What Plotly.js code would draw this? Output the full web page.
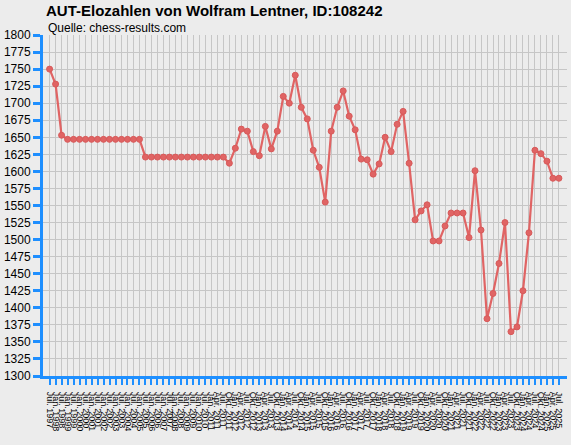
<!DOCTYPE html>
<html>
<head>
<meta charset="utf-8">
<script src="https://cdn.plot.ly/plotly-3.0.1.min.js"></script>
<style>
  html, body { margin: 0; padding: 0; background: #ececec; }
  #chart { width: 571px; height: 445px; }
</style>
</head>
<body>
<div id="chart"></div>
<script>
// Rating list dates (x axis)
const periods = [
  'Jul. 1997',
  'Jan. 1998', 'Jul. 1998', 'Jan. 1999', 'Jul. 1999', 'Jan. 2000', 'Jul. 2000',
  'Jan. 2001', 'Jul. 2001', 'Jan. 2002', 'Jul. 2002', 'Jan. 2003', 'Jul. 2003',
  'Jan. 2004', 'Jul. 2004', 'Jan. 2005', 'Jul. 2005', 'Jan. 2006', 'Jul. 2006',
  'Jan. 2007', 'Jul. 2007', 'Jan. 2008', 'Jul. 2008', 'Jan. 2009', 'Jul. 2009',
  'Jan. 2010', 'Jul. 2010',
  'Jan. 2011', 'Apr. 2011', 'Jul. 2011', 'Okt. 2011',
  'Jan. 2012', 'Apr. 2012', 'Jul. 2012', 'Okt. 2012',
  'Jan. 2013', 'Apr. 2013', 'Jul. 2013', 'Okt. 2013',
  'Jan. 2014', 'Apr. 2014', 'Jul. 2014', 'Okt. 2014',
  'Jan. 2015', 'Apr. 2015', 'Jul. 2015', 'Okt. 2015',
  'Jan. 2016', 'Apr. 2016', 'Jul. 2016', 'Okt. 2016',
  'Jan. 2017', 'Apr. 2017', 'Jul. 2017', 'Okt. 2017',
  'Jan. 2018', 'Apr. 2018', 'Jul. 2018', 'Okt. 2018',
  'Jan. 2019', 'Apr. 2019', 'Jul. 2019', 'Okt. 2019',
  'Jan. 2020', 'Apr. 2020', 'Jul. 2020', 'Okt. 2020',
  'Jan. 2021', 'Apr. 2021', 'Jul. 2021', 'Okt. 2021',
  'Jan. 2022', 'Apr. 2022', 'Jul. 2022', 'Okt. 2022',
  'Jan. 2023', 'Apr. 2023', 'Jul. 2023', 'Okt. 2023',
  'Jan. 2024', 'Apr. 2024', 'Jul. 2024', 'Okt. 2024',
  'Jan. 2025', 'Apr. 2025', 'Jul. 2025'
];

// AUT rating per list
const elo = [
  1750, 1728, 1653,
  1647, 1647, 1647, 1647, 1647, 1647, 1647, 1647, 1647, 1647, 1647, 1647, 1647,
  1621, 1621, 1621, 1621, 1621, 1621, 1621, 1621, 1621, 1621, 1621, 1621, 1621, 1621,
  1612, 1634, 1662, 1659, 1629, 1623, 1666, 1633, 1659, 1710,
  1700, 1741, 1694, 1677, 1631, 1606, 1555, 1659, 1694, 1718,
  1681, 1661, 1618, 1617, 1596, 1611, 1650, 1629, 1669, 1688,
  1612, 1529, 1542, 1551, 1498, 1498, 1520, 1539, 1539, 1539,
  1503, 1601, 1514, 1384, 1421, 1465, 1525, 1365, 1372, 1425,
  1510, 1631, 1626, 1615, 1590, 1590
];

const yTicks = [1300, 1325, 1350, 1375, 1400, 1425, 1450, 1475, 1500, 1525, 1550,
  1575, 1600, 1625, 1650, 1675, 1700, 1725, 1750, 1775, 1800];

const blue = '#1e8fff';
const bg = '#ececec';

const trace = {
  x: periods,
  y: elo,
  type: 'scatter',
  mode: 'lines+markers',
  line: { color: '#e06464', width: 2.2 },
  marker: { color: '#e06464', size: 6, line: { color: '#d85a5a', width: 1 } },
  hoverinfo: 'x+y'
};

const layout = {
  width: 571,
  height: 445,
  margin: { l: 43, r: 4, t: 35, b: 69 },
  paper_bgcolor: bg,
  plot_bgcolor: bg,
  font: { family: 'Liberation Sans, Arial, sans-serif', color: '#000' },
  showlegend: false,
  title: {
    text: '<b>AUT-Elozahlen von Wolfram Lentner, ID:108242</b>',
    font: { size: 15, color: '#000' },
    xref: 'container', x: 46 / 571, xanchor: 'left',
    yref: 'container', y: 1 - 11 / 445, yanchor: 'middle'
  },
  annotations: [{
    text: 'Quelle: chess-results.com',
    xref: 'paper', yref: 'paper',
    x: 0.005, y: 1.02, xanchor: 'left', yanchor: 'middle',
    showarrow: false,
    font: { size: 12, color: '#000' }
  }],
  xaxis: {
    type: 'category',
    range: [-1.1, periods.length - 1 + 1.35],
    tickmode: 'linear', tick0: 0, dtick: 1,
    tickangle: 90,
    tickfont: { size: 9, color: '#000' },
    ticklabelstandoff: 5,
    ticks: 'outside', ticklen: 6, tickwidth: 2, tickcolor: blue,
    showline: true, linecolor: blue, linewidth: 3,
    showgrid: true, gridcolor: '#c6c6c6', gridwidth: 1,
    zeroline: false, fixedrange: true
  },
  yaxis: {
    range: [1300, 1800],
    tickvals: yTicks,
    tickfont: { size: 12, color: '#000' },
    ticks: 'outside', ticklen: 7, tickwidth: 3, tickcolor: blue,
    showline: true, linecolor: blue, linewidth: 3,
    showgrid: true, gridcolor: '#c6c6c6', gridwidth: 1,
    zeroline: false, fixedrange: true
  }
};

Plotly.newPlot('chart', [trace], layout, { displayModeBar: false, staticPlot: true });
</script>
</body>
</html>
